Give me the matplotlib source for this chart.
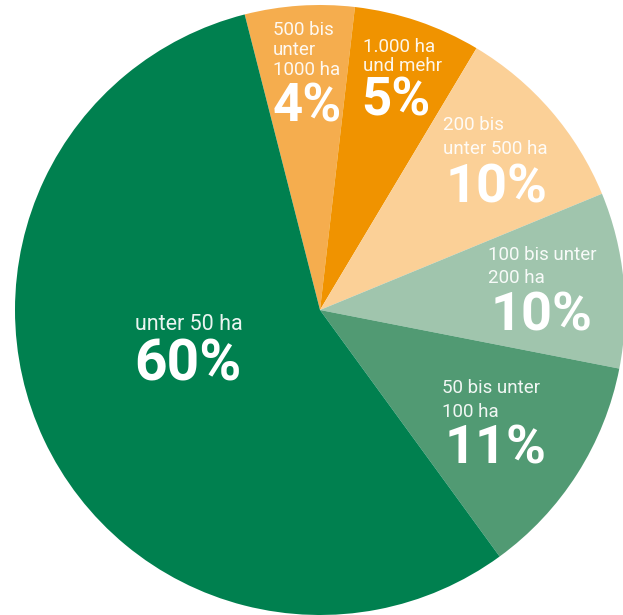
import matplotlib.pyplot as plt

# slices in clockwise order, starting at the top
labels = ['500 bis\nunter\n1000 ha', '1.000 ha\nund mehr', '200 bis\nunter 500 ha',
          '100 bis unter\n200 ha', '50 bis unter\n100 ha', 'unter 50 ha']
pct = ['4%', '5%', '10%', '10%', '11%', '60%']
# drawn slice sizes (not exactly proportional to the labels)
sizes = [5.8, 6.75, 10.2, 9.3, 11.9, 56.05]
colors = ['#f5ad4e', '#f09300', '#fbd097', '#a0c5ad', '#519a73', '#00804f']

# label anchor points in pixels (left edge, centre of first small line / of big number)
lab_xy = [(273, 30), (363, 47), (443, 125), (488, 255), (442, 388), (135, 325)]
lab_gap = [20, 19, 24, 23, 24, 0]
lab_size = [13.5, 13.5, 13.5, 13.5, 13.5, 15.5]
pct_xy = [(273, 107), (361, 101), (446, 188), (491, 316), (445, 449), (134, 365)]
pct_size = [38, 38, 39, 39, 39, 41]

W, H = 623, 615
fig = plt.figure(figsize=(W / 100, H / 100), dpi=100)
ax = fig.add_axes([0, 0, 1, 1])

ax.pie(sizes, colors=colors, startangle=104.3, counterclock=False,
       center=(320, H - 310), radius=305, wedgeprops=dict(linewidth=0))

for t, (x, y), gap, fs in zip(labels, lab_xy, lab_gap, lab_size):
    for i, line in enumerate(t.split('\n')):
        ax.text(x, H - (y + i * gap), line, ha='left', va='center', color='white',
                alpha=0.92, fontsize=fs, family='Roboto')

for t, (x, y), fs in zip(pct, pct_xy, pct_size):
    ax.text(x, H - y, t, ha='left', va='center', color='white',
            fontsize=fs, fontweight='bold', family='Roboto')

ax.set_xlim(0, W)
ax.set_ylim(0, H)
ax.set_aspect('auto')
ax.axis('off')

fig.savefig('out.png', dpi=100, facecolor='white')
